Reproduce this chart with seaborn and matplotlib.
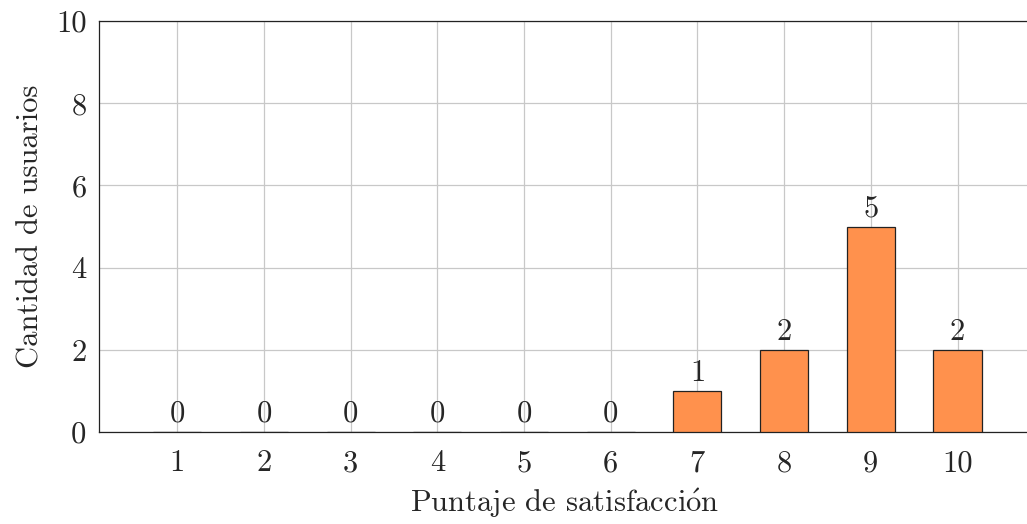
import matplotlib
matplotlib.use("Agg")
import matplotlib.pyplot as plt
import seaborn as sns
import pandas as pd

# datos
puntajes = ["1", "2", "3", "4", "5", "6", "7", "8", "9", "10"]
usuarios = [0, 0, 0, 0, 0, 0, 1, 2, 5, 2]
y_ticks = [0, 2, 4, 6, 8, 10]

df = pd.DataFrame({"puntaje": puntajes, "usuarios": usuarios})

sns.set_style("white")
plt.rcParams["font.family"] = ["cmr10", "DejaVu Serif"]
plt.rcParams["mathtext.fontset"] = "cm"
plt.rcParams["axes.unicode_minus"] = False

fs = 22

fig = plt.figure(figsize=(10.27, 5.24), dpi=100)
ax = fig.add_axes([0.0964, 0.1756, 0.906, 0.784])

sns.barplot(data=df, x="puntaje", y="usuarios", color="#FF914D",
            saturation=1, width=0.555, edgecolor="#222222", linewidth=0.9,
            ax=ax, zorder=3)

for c in ax.containers:
    ax.bar_label(c, labels=[str(v) for v in usuarios], padding=3, fontsize=fs)

ax.set_xlim(-0.903, 9.83)
ax.set_ylim(0, 10)
ax.set_yticks(y_ticks)
ax.set_yticklabels([str(t) for t in y_ticks])
ax.grid(True, color="#c8c8c8", linewidth=0.9, zorder=0)
ax.set_axisbelow(True)

ax.tick_params(axis="x", direction="out", length=8, width=0.9, color="#aaaaaa",
               labelsize=fs, pad=5)
ax.tick_params(axis="y", direction="in", length=8, width=0.9, color="#aaaaaa",
               labelsize=fs, pad=9)

for s in ["left", "top", "bottom", "right"]:
    ax.spines[s].set_color("#222222")
    ax.spines[s].set_linewidth(0.9)

ax.set_xlabel(r"Puntaje de satisfacci$\mathrm{\acute{o}}$n", fontsize=fs, labelpad=6)
ax.set_ylabel("Cantidad de usuarios", fontsize=fs, labelpad=8)

fig.savefig("out.png", dpi=100)
